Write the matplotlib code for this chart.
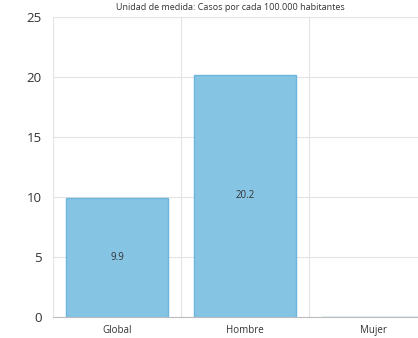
import matplotlib.pyplot as plt
from matplotlib.ticker import FixedLocator

categories = ["Global", "Hombre", "Mujer"]
values = [9.9, 20.2, 0.0]
title = "Unidad de medida: Casos por cada 100.000 habitantes"

BAR_COLOR = "#86c4e4"
EDGE_COLOR = "#6cb5dc"
GRID_COLOR = "#e3e3e3"
TEXT_COLOR = "#333333"

plt.rcParams["font.family"] = ["Open Sans", "DejaVu Sans"]

fig = plt.figure(figsize=(4.18, 3.38), dpi=100)
fig.patch.set_facecolor("white")
ax = fig.add_axes([53 / 418, 1 - 317 / 338, 384 / 418, 300 / 338])

x = list(range(len(categories)))
ax.bar(x, values, width=0.8, color=BAR_COLOR, edgecolor=EDGE_COLOR,
       linewidth=1.0, zorder=3)

for xi, v in zip(x, values):
    if v > 0:
        ax.text(xi, v / 2, f"{v:g}", ha="center", va="center",
                fontsize=7, color=TEXT_COLOR, zorder=4)

ax.set_xlim(-0.5, len(categories) - 0.5)
ax.set_ylim(0, 25)
ax.set_yticks([0, 5, 10, 15, 20, 25])
ax.set_xticks(x)
ax.set_xticklabels(categories)
ax.xaxis.set_minor_locator(FixedLocator([-0.5, 0.5, 1.5, 2.5]))

ax.tick_params(axis="y", length=0, labelsize=9.5, colors=TEXT_COLOR, pad=8)
ax.tick_params(axis="x", which="both", length=0, labelsize=7,
               colors=TEXT_COLOR, pad=6)

ax.yaxis.grid(True, color=GRID_COLOR, linewidth=0.8, zorder=0)
ax.xaxis.grid(True, which="minor", color=GRID_COLOR, linewidth=0.8, zorder=0)
ax.xaxis.grid(False, which="major")
ax.set_axisbelow(True)

for side in ["top", "right", "left"]:
    ax.spines[side].set_visible(False)
ax.spines["bottom"].set_color("#bdbdbd")
ax.spines["bottom"].set_linewidth(0.8)

fig.text(230 / 418, 1 - 8 / 338, title, ha="center", va="center",
         fontsize=6.5, color=TEXT_COLOR)

fig.savefig("out.png", dpi=100, facecolor="white")
